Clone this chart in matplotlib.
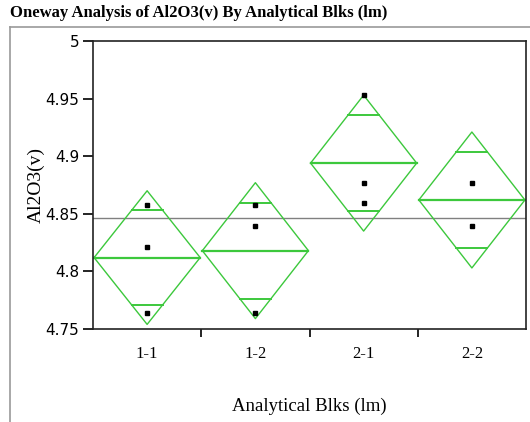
import matplotlib
matplotlib.use("Agg")
import matplotlib.pyplot as plt
from matplotlib.lines import Line2D
import numpy as np

# group summary
groups = ["1-1", "1-2", "2-1", "2-2"]
group_means = [4.812, 4.818, 4.894, 4.862]
ci_half = [0.058, 0.059, 0.059, 0.059]
grand_mean = 4.846

# individual observations (group index, value)
point_groups = [0, 0, 0, 1, 1, 1, 2, 2, 2, 3, 3]
point_values = [4.858, 4.821, 4.764, 4.858, 4.839, 4.764, 4.953, 4.877, 4.859, 4.877, 4.839]

y_ticks = [4.75, 4.8, 4.85, 4.9, 4.95, 5.0]
y_tick_labels = ["4.75", "4.8", "4.85", "4.9", "4.95", "5"]

GREEN = "#3cc83c"
W, H = 530, 422

fig = plt.figure(figsize=(W / 100, H / 100), dpi=100)
fig.patch.set_facecolor("white")
ax = fig.add_axes([93 / W, 1 - 329 / H, (526 - 93) / W, (329 - 41) / H])

# outer report frame
fig.add_artist(Line2D([10 / W, 1.0], [1 - 27 / H, 1 - 27 / H], color="#9a9a9a", lw=1.2))
fig.add_artist(Line2D([10 / W, 10 / W], [0, 1 - 27 / H], color="#9a9a9a", lw=1.2))
fig.text(10 / W, 1 - 13 / H, "Oneway Analysis of Al2O3(v) By Analytical Blks (lm)",
         family="Liberation Serif", fontweight="bold", fontsize=12, va="center", ha="left")

ax.axhline(grand_mean, color="#808080", lw=1.0, zorder=1)

half_w = 0.49
for i, (m, h) in enumerate(zip(group_means, ci_half)):
    xs = [i - half_w, i, i + half_w, i, i - half_w]
    ys = [m, m + h, m, m - h, m]
    ax.plot(xs, ys, color=GREEN, lw=1.0, zorder=2)
    ax.plot([i - half_w, i + half_w], [m, m], color=GREEN, lw=1.6, zorder=2)
    off = h / np.sqrt(2)
    mark_w = half_w * (1 - 1 / np.sqrt(2))
    for s in (1, -1):
        ax.plot([i - mark_w, i + mark_w], [m + s * off, m + s * off], color=GREEN, lw=1.4, zorder=2)

ax.plot(point_groups, point_values, "s", color="black", markersize=3.5, zorder=3)

ax.set_xlim(-0.5, len(groups) - 0.5)
ax.set_ylim(4.75, 5.0)
ax.set_yticks(y_ticks)
ax.set_yticklabels(y_tick_labels, family="DejaVu Sans", fontsize=11)
ax.set_xticks([0.5, 1.5, 2.5])
ax.set_xticklabels([])
ax.set_xticks(range(len(groups)), minor=True)
ax.set_xticklabels(groups, minor=True, family="Liberation Serif", fontsize=12)
ax.tick_params(axis="x", which="major", length=6, width=1.2, direction="out")
ax.tick_params(axis="x", which="minor", length=0, pad=12)
ax.tick_params(axis="y", length=7, width=1.2, pad=3)
for sp in ax.spines.values():
    sp.set_linewidth(1.2)
    sp.set_color("#222222")

ax.set_xlabel("Analytical Blks (lm)", family="Liberation Serif", fontsize=13.5, labelpad=26)
ax.set_ylabel("Al2O3(v)", family="Liberation Serif", fontsize=14, labelpad=0)

fig.savefig("out.png", dpi=100)
